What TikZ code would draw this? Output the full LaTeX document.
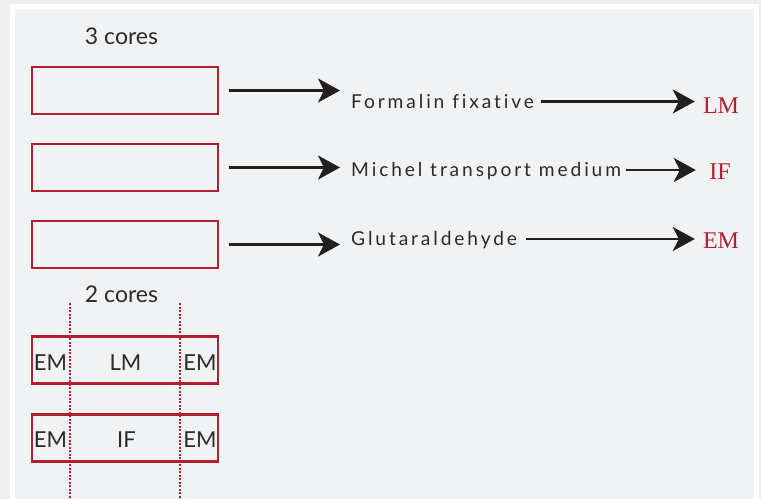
\documentclass[tikz,border=0pt]{standalone}
\usepackage{fontspec}
\setmainfont{Lato}
\newfontfamily\rowfont[LetterSpace=15,Ligatures={NoCommon}]{Lato}
\newfontfamily\redfont{Liberation Serif}
\usetikzlibrary{arrows.meta}
\definecolor{bg}{HTML}{EEEFF1}
\definecolor{panel}{HTML}{F1F2F4}
\definecolor{cred}{HTML}{B2202F}
\definecolor{ink}{HTML}{231F20}
\definecolor{txt}{HTML}{2A2A2A}
\begin{document}
\begin{tikzpicture}[x=1pt,y=-1pt,
  core/.style={draw=cred, line width=2.6pt, minimum width=186pt, minimum height=47pt, inner sep=0pt},
  head/.style={inner sep=0pt, font=\fontsize{23}{23}\selectfont, text=txt, text height=16.5pt, text depth=0pt},
  inlbl/.style={inner sep=0pt, font=\fontsize{22}{22}\selectfont, text=txt, text height=16pt, text depth=0pt},
  rowtxt/.style={inner sep=0pt, anchor=west, font=\rowfont\fontsize{19.2}{19.2}\selectfont, text=txt, text height=13.8pt, text depth=0pt},
  redlbl/.style={inner sep=0pt, minimum width=32pt, font=\redfont\fontsize{24}{24}\selectfont, text=cred, text height=16pt, text depth=0pt},
  arr/.style={draw=ink, line width=2.6pt, -{Stealth[length=22pt,width=24pt,inset=6pt]}},
  cut/.style={draw=cred, line width=2.4pt, dash pattern=on 2pt off 1.5pt}
]
\useasboundingbox (0,0) rectangle (761,499);
\fill[bg] (0,0) rectangle (761,499);
\fill[white] (10,4) rectangle (759,499);
\fill[panel] (15,9) rectangle (754,499);

% three cores
\node[head] (h3) at (121.5,36.5) {3 cores};
\node[core] (b1) at (125,90.5) {};
\node[core] (b2) at (125,167.5) {};
\node[core] (b3) at (125,244.5) {};

\node[rowtxt] (t1) at (351,101.5) {Formalin fixative};
\node[rowtxt] (t2) at (351,170) {Michel transport medium};
\node[rowtxt] (t3) at (351,239) {Glutaraldehyde};

\node[redlbl] (l1) at (721,105) {LM};
\node[redlbl] (l2) at (720,171) {IF};
\node[redlbl] (l3) at (721,240) {EM};

\draw[arr, shorten <=10pt, shorten >=11pt] (b1.east) -- (b1.east -| t1.west);
\draw[arr, shorten <=10pt, shorten >=11pt] (b2.east) -- (b2.east -| t2.west);
\draw[arr, shorten <=10pt, shorten >=11pt] (b3.east) -- (b3.east -| t3.west);

\draw[arr, shorten <=7pt, shorten >=8pt] (t1.east) -- (t1.east -| l1.west);
\draw[arr, shorten <=5pt, shorten >=8pt] (t2.east) -- (t2.east -| l2.west);
\draw[arr, shorten <=9pt, shorten >=8pt] (t3.east) -- (t3.east -| l3.west);

% two cores
\node[head] (h2) at (121.5,294.5) {2 cores};
\node[core] (b4) at (125,360) {};
\node[core] (b5) at (125,438) {};
\draw[cut] (70,303) -- (70,499);
\draw[cut] (180,303) -- (180,499);

\node[inlbl] (e1) at (50.5,362) {EM};
\node[inlbl] (m1) at (125.5,362) {LM};
\node[inlbl] (e2) at (200,362) {EM};
\node[inlbl] (e3) at (50.5,439) {EM};
\node[inlbl] (m2) at (126.5,439) {IF};
\node[inlbl] (e4) at (200,439) {EM};
\end{tikzpicture}
\end{document}
